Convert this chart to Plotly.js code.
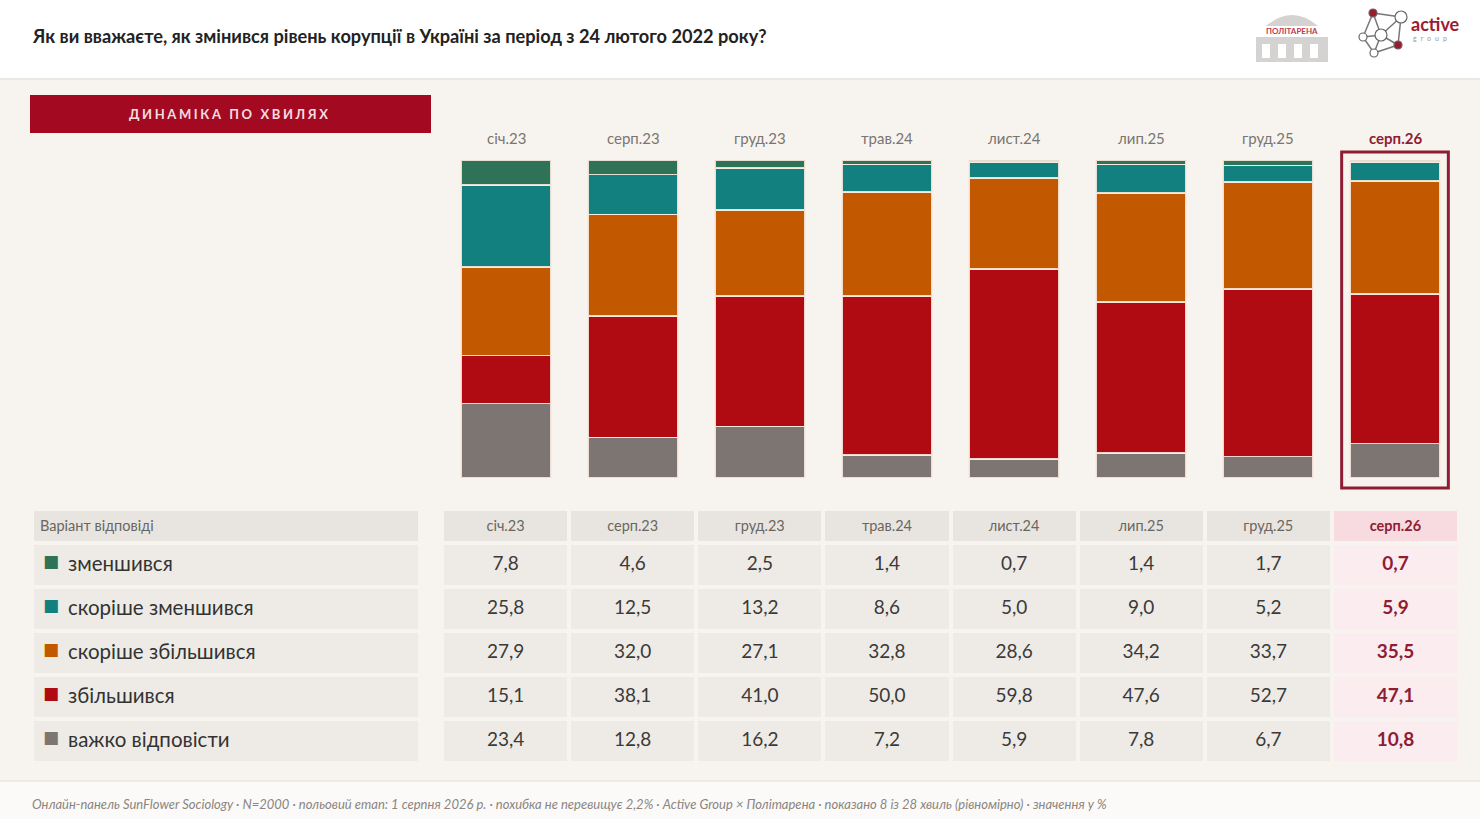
<!DOCTYPE html>
<html><head><meta charset="utf-8">
<script src="https://cdn.plot.ly/plotly-3.0.1.min.js"></script>
<style>html,body{margin:0;padding:0;background:#f7f4ef;}#chart{width:1480px;height:819px;}</style>
</head><body><div id="chart"></div>
<script>
// ---- data ----
const waves = ['січ.23','серп.23','груд.23','трав.24','лист.24','лип.25','груд.25','серп.26'];
const labels = ['зменшився','скоріше зменшився','скоріше збільшився','збільшився','важко відповісти'];
const colors = ['#2e7358','#11807f','#c25800','#b00a12','#7c7571'];
const zmenshyvsia = [7.8,4.6,2.5,1.4,0.7,1.4,1.7,0.7];
const skorisheZmenshyvsia = [25.8,12.5,13.2,8.6,5.0,9.0,5.2,5.9];
const skorisheZbilshyvsia = [27.9,32.0,27.1,32.8,28.6,34.2,33.7,35.5];
const zbilshyvsia = [15.1,38.1,41.0,50.0,59.8,47.6,52.7,47.1];
const vazhko = [23.4,12.8,16.2,7.2,5.9,7.8,6.7,10.8];
const seriesVals = [zmenshyvsia, skorisheZmenshyvsia, skorisheZbilshyvsia, zbilshyvsia, vazhko];
const headerLabel = 'Варіант відповіді';

const W=1480,H=819;
const px=x=>x/W, py=y=>1-y/H;
const FONT='Lato, "Open Sans", sans-serif';
const last = waves.length-1;
const HL='#8e1c33';
const BG='#f7f4ef';
const CLR='rgba(0,0,0,0)';
const NB=s=>s.replace(/ /g,'\u00a0');

// ---- bars (bottom first) ----
const traces=[];
for(let k=seriesVals.length-1;k>=0;k--){
  traces.push({type:'bar',x:waves,y:seriesVals[k],name:labels[k],
    marker:{color:colors[k],line:{color:'rgba(250,235,225,0.9)',width:1.5}},
    hoverinfo:'skip',showlegend:false});
}
const fmt=v=>v.toFixed(1).replace('.',',');
const TDOM=[py(778),py(509)];

// ---- table: label column background + header ----
traces.push({type:'table',domain:{x:[px(32),px(421)],y:TDOM},
  columnwidth:[1],
  header:{values:['<span>'+NB(headerLabel)+'</span>'],align:'left',height:34,
    fill:{color:'#e8e5e0'},line:{color:BG,width:4},
    font:{family:FONT,size:14.5,color:'#6a6560'}},
  cells:{values:[labels.map(()=>'')],
    align:'left',height:44,fill:{color:'#eeebe6'},line:{color:BG,width:4},
    font:{family:FONT,size:20,color:'#333'}}
});
// ---- legend squares (overlay) ----
traces.push({type:'table',domain:{x:[px(36),px(66)],y:TDOM},
  columnwidth:[1],
  header:{values:[''],height:34,fill:{color:CLR},line:{color:CLR,width:4},font:{size:14.5}},
  cells:{values:[labels.map(()=>'<span>■</span>')],align:'center',height:44,
    fill:{color:CLR},line:{color:CLR,width:4},
    font:{family:'DejaVu Sans',size:17,color:[colors]}}
});
// ---- label texts (overlay) ----
traces.push({type:'table',domain:{x:[px(60),px(421)],y:TDOM},
  columnwidth:[1],
  header:{values:[''],height:34,fill:{color:CLR},line:{color:CLR,width:4},font:{size:14.5}},
  cells:{values:[labels.map(l=>'<span>'+NB(l)+'</span>')],align:'left',height:44,
    fill:{color:CLR},line:{color:CLR,width:4},
    font:{family:FONT,size:20.5,color:'#333'}}
});
// ---- table: values ----
const hdrFill=waves.map((w,i)=>i===last?'#f8dbe1':'#e8e5e0');
const cellFill=waves.map((w,i)=>i===last?'#fbecef':'#eeebe6');
traces.push({type:'table',domain:{x:[px(442),px(1459)],y:TDOM},
  columnwidth:waves.map(()=>1),
  header:{values:waves.map((w,i)=>i===last?'<b>'+w+'</b>':'<span>'+w+'</span>'),align:'center',height:34,
    fill:{color:hdrFill},line:{color:BG,width:4},
    font:{family:FONT,size:14.5,color:waves.map((w,i)=>i===last?HL:'#6a6560')}},
  cells:{values:waves.map((w,i)=>seriesVals.map(s=>i===last?'<b>'+fmt(s[i])+'</b>':'<span>'+fmt(s[i])+'</span>')),
    align:'center',height:44,fill:{color:cellFill},line:{color:BG,width:4},
    font:{family:FONT,size:19,color:waves.map((w,i)=>i===last?HL:'#3a3a3a')}}
});

// ---- annotations ----
const ann=[];
ann.push({xref:'paper',yref:'paper',x:px(30),y:py(36),xanchor:'left',yanchor:'middle',showarrow:false,
  text:'<b>Як ви вважаєте, як змінився рівень корупції в Україні за період з 24 лютого 2022 року?</b>',
  font:{family:FONT,size:18.2,color:'#222'}});
ann.push({xref:'paper',yref:'paper',x:px(230),y:py(114),xanchor:'center',yanchor:'middle',showarrow:false,
  text:'<b><span style="letter-spacing:2.6px">ДИНАМІКА ПО ХВИЛЯХ</span></b>',
  font:{family:FONT,size:13,color:'#f6dde0'}});
waves.forEach((w,i)=>{
  ann.push({xref:'x',yref:'paper',x:w,y:py(138),xanchor:'center',yanchor:'middle',showarrow:false,
    text:i===last?'<b>'+w+'</b>':w,font:{family:FONT,size:15,color:i===last?HL:'#7a7570'}});
});
ann.push({xref:'paper',yref:'paper',x:px(30),y:py(804),xanchor:'left',yanchor:'middle',showarrow:false,
  text:'<i>Онлайн-панель SunFlower Sociology · N=2000 · польовий етап: 1 серпня 2026 р. · похибка не перевищує 2,2% · Active Group × Політарена · показано 8 із 28 хвиль (рівномірно) · значення у %</i>',
  font:{family:FONT,size:13,color:'#8a8580'}});
// logos text
ann.push({xref:'paper',yref:'paper',x:px(1292),y:py(31),xanchor:'center',yanchor:'middle',showarrow:false,
  text:'<b>ПОЛІТАРЕНА</b>',font:{family:FONT,size:8,color:'#c0394a'}});
ann.push({xref:'paper',yref:'paper',x:px(1409),y:py(24),xanchor:'left',yanchor:'middle',showarrow:false,
  text:'<b>active</b>',font:{family:FONT,size:18,color:'#9b1b30'}});
ann.push({xref:'paper',yref:'paper',x:px(1411),y:py(38),xanchor:'left',yanchor:'middle',showarrow:false,
  text:'<span style="letter-spacing:4px">group</span>',font:{family:FONT,size:7,color:'#999'}});

// ---- shapes ----
const sh=[];
sh.push({type:'rect',xref:'paper',yref:'paper',x0:0,x1:1,y0:py(78),y1:1,fillcolor:'#ffffff',line:{width:0},layer:'below'});
sh.push({type:'line',xref:'paper',yref:'paper',x0:0,x1:1,y0:py(79),y1:py(79),line:{color:'#ebe7e2',width:2},layer:'below'});
sh.push({type:'rect',xref:'paper',yref:'paper',x0:0,x1:1,y0:0,y1:py(781),fillcolor:'#fbfaf8',line:{width:0},layer:'below'});
sh.push({type:'line',xref:'paper',yref:'paper',x0:0,x1:1,y0:py(781),y1:py(781),line:{color:'#ebe7e2',width:1.5},layer:'below'});
sh.push({type:'rect',xref:'paper',yref:'paper',x0:px(30),x1:px(431),y0:py(133),y1:py(95),fillcolor:'#a30a22',line:{width:0},layer:'below'});
// highlight box
sh.push({type:'rect',xref:'x',yref:'paper',x0:last-0.42,x1:last+0.42,y0:py(488),y1:py(152),line:{color:HL,width:3},fillcolor:'rgba(0,0,0,0)'});
// Політарена logo
sh.push({type:'path',xref:'paper',yref:'paper',layer:'above',
  path:`M ${px(1266)} ${py(26)} Q ${px(1292)} ${py(4)} ${px(1318)} ${py(26)} Z`,fillcolor:'#d5d3d1',line:{width:0}});
sh.push({type:'rect',xref:'paper',yref:'paper',x0:px(1256),x1:px(1328),y0:py(62),y1:py(37),fillcolor:'#d5d3d1',line:{width:0}});
[1262,1278,1294,1310].forEach(x=>{
  sh.push({type:'rect',xref:'paper',yref:'paper',x0:px(x),x1:px(x+8),y0:py(58),y1:py(44),fillcolor:'#ffffff',line:{width:0}});
});
// active group network
const nodes=[[1373,13,'#9b1b30',4],[1401,17,'#fff',6],[1363,37,'#fff',4],[1381,35,'#fff',6],[1398,45,'#9b1b30',4],[1374,53,'#fff',4]];
const edges=[[0,1],[1,4],[4,5],[5,2],[2,0],[0,3],[3,4],[3,5],[2,3],[1,3]];
edges.forEach(e=>{const a=nodes[e[0]],b=nodes[e[1]];
  sh.push({type:'line',xref:'paper',yref:'paper',x0:px(a[0]),y0:py(a[1]),x1:px(b[0]),y1:py(b[1]),line:{color:'#777',width:1.5}});});
nodes.forEach(n=>{
  sh.push({type:'circle',xref:'paper',yref:'paper',x0:px(n[0]-n[3]),x1:px(n[0]+n[3]),y0:py(n[1]+n[3]),y1:py(n[1]-n[3]),fillcolor:n[2],line:{color:'#666',width:1.2}});
});

const layout={width:W,height:H,margin:{l:0,r:0,t:0,b:0},paper_bgcolor:BG,plot_bgcolor:'rgba(0,0,0,0)',
  barmode:'stack',bargap:0.29,showlegend:false,hovermode:false,
  xaxis:{domain:[px(442.5),px(1458.5)],range:[-0.5,7.5],type:'category',showticklabels:false,showgrid:false,zeroline:false,showline:false,ticks:''},
  yaxis:{domain:[py(478),py(160)],range:[0,100],showticklabels:false,showgrid:false,zeroline:false,showline:false,ticks:''},
  annotations:ann,shapes:sh,font:{family:FONT}};
Plotly.newPlot('chart',traces,layout,{staticPlot:true,displayModeBar:false});
</script></body></html>
